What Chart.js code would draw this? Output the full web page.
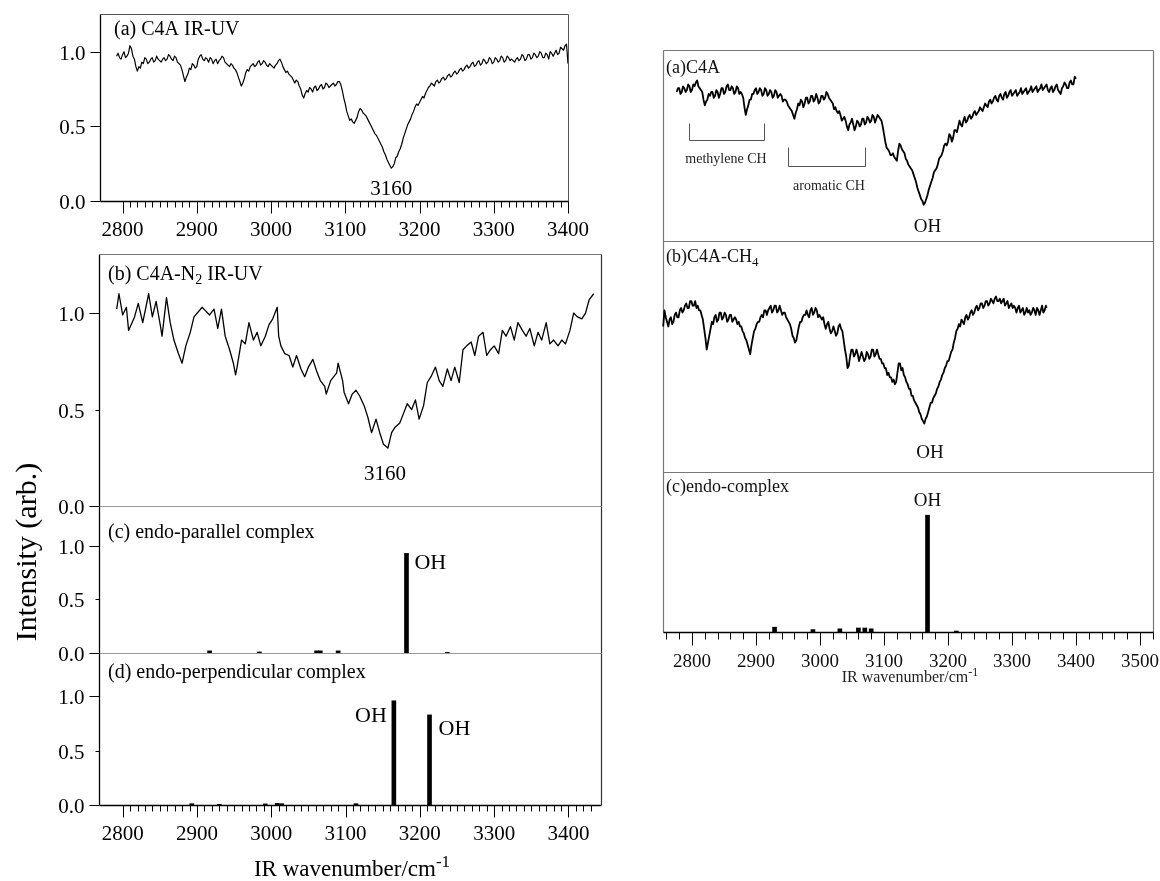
<!DOCTYPE html>
<html><head><meta charset="utf-8">
<script src="https://cdn.jsdelivr.net/npm/chart.js@4.4.1/dist/chart.umd.min.js"></script>
<style>
html,body{margin:0;padding:0;background:#fff;}
#wrap{position:relative;width:1160px;height:881px;overflow:hidden;background:#fff;}
#wrap canvas{position:absolute;left:0;top:0;}
</style></head><body><div id="wrap"></div>
<script>
// ---------------- DATA ----------------
const leftXTicks = [2800,2900,3000,3100,3200,3300,3400];
const rightXTicks = [2800,2900,3000,3100,3200,3300,3400,3500];
const leftYTicks = [0.0, 0.5, 1.0];
const leftYTickLabels = ["0.0","0.5","1.0"];

// (a) C4A IR-UV  [wavenumber, intensity]
const leftA = [[2792,0.97],[2794,0.99],[2796,0.96],[2798,0.95],[2800,0.98],[2802,1.00],[2804,0.96],[2806,0.97],[2808,0.99],[2810,1.04],[2812,1.02],[2814,0.97],[2816,0.95],[2818,0.90],[2820,0.87],[2822,0.90],[2824,0.89],[2826,0.93],[2828,0.92],[2830,0.96],[2832,0.95],[2834,0.92],[2836,0.93],[2838,0.95],[2840,0.96],[2842,0.93],[2844,0.94],[2846,0.97],[2848,0.95],[2850,0.94],[2852,0.93],[2854,0.95],[2856,0.96],[2858,0.94],[2860,0.95],[2862,0.98],[2864,0.97],[2866,0.95],[2868,0.94],[2870,0.97],[2872,0.96],[2874,0.93],[2876,0.92],[2878,0.91],[2880,0.88],[2882,0.84],[2884,0.80],[2886,0.83],[2888,0.85],[2890,0.89],[2892,0.88],[2894,0.92],[2896,0.91],[2898,0.89],[2900,0.90],[2902,0.95],[2904,0.97],[2906,0.98],[2908,0.95],[2910,0.94],[2912,0.96],[2914,0.95],[2916,0.93],[2918,0.96],[2920,0.95],[2922,0.92],[2924,0.94],[2926,0.95],[2928,0.92],[2930,0.94],[2932,0.95],[2934,0.97],[2936,0.96],[2938,0.93],[2940,0.92],[2942,0.91],[2944,0.90],[2946,0.92],[2948,0.91],[2950,0.89],[2952,0.88],[2954,0.86],[2956,0.83],[2958,0.80],[2960,0.77],[2962,0.79],[2964,0.82],[2966,0.86],[2968,0.88],[2970,0.87],[2972,0.90],[2974,0.91],[2976,0.92],[2978,0.90],[2980,0.91],[2982,0.93],[2984,0.94],[2986,0.91],[2988,0.92],[2990,0.94],[2992,0.93],[2994,0.91],[2996,0.90],[2998,0.92],[3000,0.91],[3002,0.90],[3004,0.89],[3006,0.91],[3008,0.92],[3010,0.94],[3012,0.95],[3014,0.93],[3016,0.90],[3018,0.88],[3020,0.86],[3022,0.87],[3024,0.85],[3026,0.84],[3028,0.83],[3030,0.81],[3032,0.79],[3034,0.81],[3036,0.80],[3038,0.77],[3040,0.75],[3042,0.71],[3044,0.69],[3046,0.72],[3048,0.74],[3050,0.73],[3052,0.76],[3054,0.75],[3056,0.73],[3058,0.76],[3060,0.77],[3062,0.74],[3064,0.75],[3066,0.77],[3068,0.78],[3070,0.75],[3072,0.76],[3074,0.79],[3076,0.78],[3078,0.76],[3080,0.77],[3082,0.78],[3084,0.79],[3086,0.77],[3088,0.78],[3090,0.80],[3092,0.80],[3094,0.78],[3096,0.74],[3098,0.69],[3100,0.65],[3102,0.60],[3104,0.57],[3106,0.54],[3108,0.55],[3110,0.53],[3112,0.52],[3114,0.54],[3116,0.56],[3118,0.60],[3120,0.62],[3122,0.61],[3124,0.59],[3126,0.58],[3128,0.57],[3130,0.55],[3132,0.53],[3134,0.51],[3136,0.49],[3138,0.47],[3140,0.45],[3142,0.44],[3144,0.42],[3146,0.40],[3148,0.38],[3150,0.36],[3152,0.33],[3154,0.31],[3156,0.28],[3158,0.26],[3160,0.24],[3162,0.22],[3164,0.23],[3166,0.25],[3168,0.29],[3170,0.30],[3172,0.33],[3174,0.35],[3176,0.38],[3178,0.42],[3180,0.45],[3182,0.48],[3184,0.51],[3186,0.53],[3188,0.55],[3190,0.58],[3192,0.60],[3194,0.63],[3196,0.65],[3198,0.64],[3200,0.66],[3202,0.68],[3204,0.70],[3206,0.69],[3208,0.72],[3210,0.74],[3212,0.76],[3214,0.77],[3216,0.79],[3218,0.78],[3220,0.77],[3222,0.80],[3224,0.81],[3226,0.79],[3228,0.80],[3230,0.82],[3232,0.83],[3234,0.81],[3236,0.82],[3238,0.84],[3240,0.85],[3242,0.83],[3244,0.84],[3246,0.86],[3248,0.87],[3250,0.85],[3252,0.86],[3254,0.88],[3256,0.89],[3258,0.87],[3260,0.88],[3262,0.90],[3264,0.91],[3266,0.89],[3268,0.90],[3270,0.92],[3272,0.93],[3274,0.90],[3276,0.91],[3278,0.93],[3280,0.94],[3282,0.91],[3284,0.92],[3286,0.95],[3288,0.94],[3290,0.92],[3292,0.93],[3294,0.96],[3296,0.95],[3298,0.92],[3300,0.93],[3302,0.96],[3304,0.95],[3306,0.93],[3308,0.94],[3310,0.97],[3312,0.96],[3314,0.93],[3316,0.94],[3318,0.97],[3320,0.96],[3322,0.94],[3324,0.95],[3326,0.94],[3328,0.93],[3330,0.95],[3332,0.96],[3334,0.94],[3336,0.95],[3338,0.98],[3340,0.97],[3342,0.94],[3344,0.95],[3346,0.98],[3348,0.98],[3350,0.95],[3352,0.96],[3354,0.99],[3356,0.98],[3358,0.96],[3360,0.97],[3362,1.00],[3364,0.99],[3366,0.96],[3368,0.96],[3370,0.99],[3372,0.98],[3374,0.95],[3376,1.00],[3378,0.99],[3380,0.97],[3382,0.99],[3384,1.01],[3386,0.98],[3388,0.99],[3390,1.03],[3392,1.02],[3394,1.01],[3396,1.04],[3398,1.05],[3400,0.92]];

// (b) C4A-N2 IR-UV
const leftB = [[2792,1.02],[2795,1.10],[2800,0.99],[2805,1.03],[2808,0.91],[2816,0.98],[2821,1.05],[2827,0.95],[2835,1.10],[2840,0.98],[2845,1.06],[2851,0.93],[2853,0.88],[2859,1.08],[2864,0.95],[2869,0.86],[2875,0.79],[2880,0.74],[2885,0.83],[2891,0.90],[2896,0.98],[2907,1.03],[2912,1.01],[2917,0.99],[2923,1.02],[2928,0.92],[2933,1.02],[2938,0.88],[2944,0.81],[2949,0.74],[2952,0.68],[2954,0.72],[2960,0.86],[2965,0.84],[2970,0.95],[2976,0.86],[2981,0.90],[2986,0.83],[2992,0.88],[2997,0.94],[3002,0.97],[3008,1.03],[3010,0.88],[3013,0.83],[3018,0.79],[3024,0.78],[3029,0.72],[3034,0.78],[3040,0.71],[3045,0.67],[3050,0.72],[3056,0.76],[3061,0.70],[3066,0.65],[3072,0.62],[3074,0.58],[3080,0.65],[3088,0.69],[3090,0.74],[3096,0.65],[3098,0.59],[3104,0.53],[3109,0.58],[3114,0.60],[3119,0.57],[3125,0.52],[3130,0.46],[3135,0.38],[3141,0.45],[3146,0.38],[3151,0.32],[3157,0.30],[3162,0.38],[3167,0.41],[3173,0.43],[3178,0.48],[3183,0.53],[3189,0.50],[3194,0.55],[3199,0.45],[3205,0.52],[3210,0.64],[3215,0.67],[3221,0.72],[3226,0.65],[3231,0.62],[3237,0.71],[3242,0.65],[3247,0.72],[3253,0.64],[3258,0.81],[3263,0.83],[3269,0.85],[3274,0.78],[3279,0.88],[3285,0.90],[3290,0.78],[3295,0.81],[3300,0.83],[3306,0.79],[3311,0.91],[3316,0.88],[3322,0.93],[3327,0.86],[3332,0.95],[3338,0.91],[3343,0.88],[3348,0.92],[3354,0.83],[3359,0.90],[3364,0.86],[3370,0.95],[3375,0.84],[3380,0.86],[3386,0.83],[3391,0.86],[3396,0.84],[3402,0.91],[3407,1.00],[3412,0.98],[3418,0.97],[3423,1.00],[3428,1.07],[3434,1.10]];

// (c) endo-parallel complex (calculated sticks)
const leftC = [[2917,0.02],[2984,0.01],[3061,0.02],[3066,0.02],[3090,0.02],[3182,0.93],[3237,0.006]];
// (d) endo-perpendicular complex
const leftD = [[2893,0.012],[2930,0.006],[2992,0.01],[3008,0.015],[3014,0.012],[3114,0.012],[3165,0.96],[3213,0.83]];

// right (a) C4A
const rightA = [[2776,0.78],[2778,0.80],[2780,0.80],[2782,0.77],[2784,0.78],[2786,0.81],[2788,0.80],[2790,0.78],[2792,0.79],[2794,0.82],[2796,0.81],[2798,0.78],[2800,0.79],[2802,0.82],[2804,0.81],[2806,0.83],[2808,0.84],[2810,0.81],[2812,0.80],[2814,0.79],[2816,0.78],[2818,0.74],[2820,0.71],[2822,0.73],[2824,0.74],[2826,0.77],[2828,0.76],[2830,0.78],[2832,0.78],[2834,0.75],[2836,0.76],[2838,0.79],[2840,0.78],[2842,0.75],[2844,0.77],[2846,0.80],[2848,0.80],[2850,0.77],[2852,0.78],[2854,0.81],[2856,0.82],[2858,0.79],[2860,0.79],[2862,0.81],[2864,0.80],[2866,0.77],[2868,0.78],[2870,0.81],[2872,0.80],[2874,0.77],[2876,0.78],[2878,0.77],[2880,0.75],[2882,0.70],[2884,0.66],[2886,0.69],[2888,0.71],[2890,0.74],[2892,0.74],[2894,0.77],[2896,0.77],[2898,0.79],[2900,0.80],[2902,0.77],[2904,0.78],[2906,0.80],[2908,0.79],[2910,0.76],[2912,0.77],[2914,0.80],[2916,0.79],[2918,0.76],[2920,0.77],[2922,0.79],[2924,0.78],[2926,0.75],[2928,0.76],[2930,0.79],[2932,0.78],[2934,0.75],[2936,0.76],[2938,0.77],[2940,0.76],[2942,0.73],[2944,0.74],[2946,0.74],[2948,0.73],[2950,0.71],[2952,0.70],[2954,0.69],[2956,0.68],[2958,0.66],[2960,0.64],[2962,0.67],[2964,0.69],[2966,0.72],[2968,0.71],[2970,0.74],[2972,0.73],[2974,0.70],[2976,0.72],[2978,0.75],[2980,0.75],[2982,0.72],[2984,0.73],[2986,0.76],[2988,0.76],[2990,0.73],[2992,0.74],[2994,0.77],[2996,0.75],[2998,0.72],[3000,0.73],[3002,0.76],[3004,0.76],[3006,0.74],[3008,0.75],[3010,0.78],[3012,0.77],[3014,0.75],[3016,0.74],[3018,0.73],[3020,0.72],[3022,0.69],[3024,0.70],[3026,0.68],[3028,0.67],[3030,0.68],[3032,0.66],[3034,0.63],[3036,0.64],[3038,0.65],[3040,0.63],[3042,0.60],[3044,0.58],[3046,0.61],[3048,0.62],[3050,0.64],[3052,0.61],[3054,0.58],[3056,0.60],[3058,0.63],[3060,0.62],[3062,0.60],[3064,0.61],[3066,0.64],[3068,0.64],[3070,0.61],[3072,0.62],[3074,0.65],[3076,0.64],[3078,0.62],[3080,0.63],[3082,0.66],[3084,0.65],[3086,0.62],[3088,0.64],[3090,0.66],[3092,0.65],[3094,0.64],[3096,0.63],[3098,0.60],[3100,0.56],[3102,0.52],[3104,0.49],[3106,0.48],[3108,0.47],[3110,0.45],[3112,0.45],[3114,0.46],[3116,0.44],[3118,0.43],[3120,0.42],[3122,0.47],[3124,0.51],[3126,0.50],[3128,0.48],[3130,0.47],[3132,0.46],[3134,0.43],[3136,0.42],[3138,0.40],[3140,0.39],[3142,0.38],[3144,0.37],[3146,0.35],[3148,0.33],[3150,0.31],[3152,0.28],[3154,0.26],[3156,0.24],[3158,0.22],[3160,0.21],[3162,0.19],[3164,0.20],[3166,0.22],[3168,0.24],[3170,0.27],[3172,0.29],[3174,0.31],[3176,0.33],[3178,0.36],[3180,0.37],[3182,0.38],[3184,0.40],[3186,0.43],[3188,0.44],[3190,0.45],[3192,0.47],[3194,0.50],[3196,0.51],[3198,0.50],[3200,0.52],[3202,0.56],[3204,0.55],[3206,0.52],[3208,0.54],[3210,0.58],[3212,0.58],[3214,0.57],[3216,0.60],[3218,0.63],[3220,0.61],[3222,0.60],[3224,0.63],[3226,0.65],[3228,0.62],[3230,0.63],[3232,0.65],[3234,0.66],[3236,0.64],[3238,0.65],[3240,0.67],[3242,0.68],[3244,0.66],[3246,0.67],[3248,0.68],[3250,0.70],[3252,0.69],[3254,0.68],[3256,0.70],[3258,0.72],[3260,0.71],[3262,0.70],[3264,0.73],[3266,0.74],[3268,0.72],[3270,0.73],[3272,0.75],[3274,0.76],[3276,0.74],[3278,0.73],[3280,0.76],[3282,0.77],[3284,0.75],[3286,0.74],[3288,0.77],[3290,0.78],[3292,0.75],[3294,0.76],[3296,0.78],[3298,0.79],[3300,0.76],[3302,0.77],[3304,0.78],[3306,0.79],[3308,0.76],[3310,0.77],[3312,0.78],[3314,0.80],[3316,0.77],[3318,0.78],[3320,0.79],[3322,0.80],[3324,0.77],[3326,0.78],[3328,0.79],[3330,0.81],[3332,0.78],[3334,0.79],[3336,0.80],[3338,0.81],[3340,0.78],[3342,0.79],[3344,0.80],[3346,0.82],[3348,0.79],[3350,0.80],[3352,0.81],[3354,0.82],[3356,0.79],[3358,0.78],[3360,0.80],[3362,0.81],[3364,0.78],[3366,0.79],[3368,0.81],[3370,0.82],[3372,0.79],[3374,0.78],[3376,0.77],[3378,0.80],[3380,0.81],[3382,0.83],[3384,0.82],[3386,0.80],[3388,0.80],[3390,0.83],[3392,0.84],[3394,0.82],[3396,0.82],[3398,0.86],[3400,0.85]];

// right (b) C4A-CH4
const rightB = [[2755,0.63],[2757,0.70],[2759,0.67],[2761,0.65],[2763,0.63],[2765,0.66],[2767,0.67],[2769,0.64],[2771,0.65],[2773,0.68],[2775,0.69],[2777,0.67],[2779,0.67],[2781,0.70],[2783,0.71],[2785,0.69],[2787,0.70],[2789,0.72],[2791,0.73],[2793,0.71],[2795,0.71],[2797,0.74],[2799,0.74],[2801,0.72],[2803,0.72],[2805,0.74],[2807,0.71],[2809,0.72],[2811,0.70],[2813,0.70],[2815,0.68],[2817,0.66],[2819,0.62],[2821,0.58],[2823,0.53],[2825,0.56],[2827,0.59],[2829,0.62],[2831,0.65],[2833,0.64],[2835,0.67],[2837,0.68],[2839,0.65],[2841,0.66],[2843,0.69],[2845,0.69],[2847,0.66],[2849,0.67],[2851,0.69],[2853,0.68],[2855,0.65],[2857,0.66],[2859,0.68],[2861,0.68],[2863,0.65],[2865,0.66],[2867,0.67],[2869,0.66],[2871,0.64],[2873,0.65],[2875,0.63],[2877,0.63],[2879,0.61],[2881,0.60],[2883,0.58],[2885,0.57],[2887,0.55],[2889,0.53],[2891,0.51],[2893,0.55],[2895,0.58],[2897,0.61],[2899,0.62],[2901,0.64],[2903,0.65],[2905,0.65],[2907,0.67],[2909,0.68],[2911,0.67],[2913,0.70],[2915,0.70],[2917,0.68],[2919,0.70],[2921,0.71],[2923,0.72],[2925,0.69],[2927,0.70],[2929,0.72],[2931,0.72],[2933,0.69],[2935,0.70],[2937,0.72],[2939,0.70],[2941,0.68],[2943,0.69],[2945,0.69],[2947,0.67],[2949,0.66],[2951,0.65],[2953,0.64],[2955,0.62],[2957,0.59],[2959,0.58],[2961,0.56],[2963,0.57],[2965,0.60],[2967,0.63],[2969,0.65],[2971,0.65],[2973,0.67],[2975,0.68],[2977,0.68],[2979,0.70],[2981,0.68],[2983,0.67],[2985,0.70],[2987,0.71],[2989,0.68],[2991,0.69],[2993,0.71],[2995,0.70],[2997,0.67],[2999,0.68],[3001,0.67],[3003,0.66],[3005,0.67],[3007,0.64],[3009,0.62],[3011,0.64],[3013,0.65],[3015,0.62],[3017,0.60],[3019,0.61],[3021,0.63],[3023,0.61],[3025,0.59],[3027,0.60],[3029,0.63],[3031,0.64],[3033,0.62],[3035,0.61],[3037,0.57],[3039,0.53],[3041,0.50],[3043,0.45],[3045,0.46],[3047,0.50],[3049,0.53],[3051,0.53],[3053,0.50],[3055,0.51],[3057,0.53],[3059,0.51],[3061,0.48],[3063,0.50],[3065,0.52],[3067,0.50],[3069,0.48],[3071,0.49],[3073,0.52],[3075,0.51],[3077,0.49],[3079,0.50],[3081,0.53],[3083,0.53],[3085,0.50],[3087,0.51],[3089,0.53],[3091,0.51],[3093,0.49],[3095,0.49],[3097,0.47],[3099,0.47],[3101,0.45],[3103,0.45],[3105,0.42],[3107,0.43],[3109,0.41],[3111,0.41],[3113,0.39],[3115,0.40],[3117,0.38],[3119,0.39],[3121,0.43],[3123,0.47],[3125,0.47],[3127,0.44],[3129,0.45],[3131,0.42],[3133,0.41],[3135,0.39],[3137,0.38],[3139,0.36],[3141,0.36],[3143,0.33],[3145,0.33],[3147,0.31],[3149,0.30],[3151,0.29],[3153,0.28],[3155,0.26],[3157,0.25],[3159,0.23],[3161,0.22],[3163,0.21],[3165,0.23],[3167,0.24],[3169,0.26],[3171,0.28],[3173,0.30],[3175,0.30],[3177,0.32],[3179,0.33],[3181,0.34],[3183,0.36],[3185,0.37],[3187,0.39],[3189,0.40],[3191,0.42],[3193,0.43],[3195,0.45],[3197,0.46],[3199,0.48],[3201,0.48],[3203,0.50],[3205,0.52],[3207,0.53],[3209,0.56],[3211,0.58],[3213,0.61],[3215,0.62],[3217,0.64],[3219,0.63],[3221,0.66],[3223,0.65],[3225,0.64],[3227,0.67],[3229,0.68],[3231,0.66],[3233,0.67],[3235,0.69],[3237,0.70],[3239,0.68],[3241,0.69],[3243,0.71],[3245,0.72],[3247,0.70],[3249,0.71],[3251,0.73],[3253,0.73],[3255,0.71],[3257,0.72],[3259,0.74],[3261,0.74],[3263,0.72],[3265,0.73],[3267,0.75],[3269,0.74],[3271,0.73],[3273,0.75],[3275,0.76],[3277,0.74],[3279,0.74],[3281,0.75],[3283,0.73],[3285,0.74],[3287,0.75],[3289,0.72],[3291,0.73],[3293,0.74],[3295,0.71],[3297,0.72],[3299,0.73],[3301,0.71],[3303,0.72],[3305,0.71],[3307,0.69],[3309,0.71],[3311,0.72],[3313,0.69],[3315,0.70],[3317,0.71],[3319,0.68],[3321,0.69],[3323,0.71],[3325,0.69],[3327,0.70],[3329,0.68],[3331,0.69],[3333,0.71],[3335,0.70],[3337,0.68],[3339,0.71],[3341,0.70],[3343,0.68],[3345,0.70],[3347,0.72],[3349,0.69],[3351,0.70],[3353,0.72],[3354,0.71]];

// right (c) endo-complex sticks
const rightC = [[2929,0.03],[2989,0.015],[3031,0.02],[3060,0.025],[3070,0.025],[3080,0.02],[3168,0.73],[3213,0.006]];

// ---------------- DRAWING ----------------
const FONT = '"Liberation Serif","Times New Roman",serif';
const wrap = document.getElementById('wrap');
let nid = 0;

function seg(ctx, x1, y1, x2, y2, color, w) {
  ctx.save(); ctx.strokeStyle = color; ctx.lineWidth = w || 1;
  ctx.beginPath(); ctx.moveTo(x1, y1); ctx.lineTo(x2, y2); ctx.stroke(); ctx.restore();
}
function crisp(v) { return Math.round(v) + 0.5; }
function rich(ctx, parts, x, y, size, align, color) {
  ctx.save();
  ctx.fillStyle = color || '#000';
  ctx.textBaseline = 'alphabetic'; ctx.textAlign = 'left';
  let w = 0;
  for (const [t, m] of parts) { ctx.font = (m ? Math.round(size * 0.72) : size) + 'px ' + FONT; w += ctx.measureText(t).width; }
  let cx = align === 'center' ? x - w / 2 : (align === 'right' ? x - w : x);
  for (const [t, m] of parts) {
    const s = m ? Math.round(size * 0.72) : size;
    ctx.font = s + 'px ' + FONT;
    const dy = m === 1 ? size * 0.22 : (m === 2 ? -size * 0.40 : 0);
    ctx.fillText(t, cx, y + dy);
    cx += ctx.measureText(t).width;
  }
  ctx.restore();
}
function txt(ctx, t, x, y, size, align, color) { rich(ctx, [[t, 0]], x, y, size, align, color); }

function panel(rect, xr, yr, datasets, deco) {
  const cv = document.createElement('canvas');
  cv.width = 1160; cv.height = 881;
  cv.style.width = '1160px'; cv.style.height = '881px';
  wrap.appendChild(cv);
  nid++;
  return new Chart(cv.getContext('2d'), {
    type: 'line',
    data: { datasets: datasets },
    options: {
      responsive: false, maintainAspectRatio: false, animation: false, devicePixelRatio: 1, events: [],
      layout: { padding: { left: rect[0], top: rect[1], right: 1160 - rect[2], bottom: 881 - rect[3] } },
      scales: {
        x: { type: 'linear', min: xr[0], max: xr[1], display: false, offset: false },
        y: { type: 'linear', min: yr[0], max: yr[1], display: false }
      },
      plugins: { legend: { display: false }, tooltip: { enabled: false } }
    },
    plugins: [{ id: 'deco' + nid, afterDraw(ch) { deco(ch, ch.ctx, ch.scales.x, ch.scales.y, ch.chartArea); } }]
  });
}
function spec(pairs, w) {
  return { type: 'line', data: pairs.map(p => ({ x: p[0], y: p[1] })), borderColor: '#000', borderWidth: w,
           pointRadius: 0, tension: 0, fill: false, clip: false, borderJoinStyle: 'round' };
}
function sticks(pairs, w) {
  return { type: 'bar', data: pairs.map(p => ({ x: p[0], y: p[1] })), backgroundColor: '#000', borderWidth: 0,
           barThickness: w, grouped: false };
}

function leftY(ctx, ys, L, shortMid) {
  leftYTicks.forEach((v, i) => {
    const y = crisp(ys.getPixelForValue(v));
    const len = (shortMid && v === 0.5) ? 4 : 10;
    seg(ctx, L - len, y, L, y, '#000', 1);
    txt(ctx, leftYTickLabels[i], L - 15, y + 7, 21, 'right');
  });
}
function bottomX(ctx, xs, B, from, to, labelY) {
  for (let v = from; v <= to; v += 10) {
    const x = crisp(xs.getPixelForValue(v));
    seg(ctx, x, B, x, B + (v % 100 === 0 ? 12 : 6), '#000', 1);
  }
  leftXTicks.forEach(v => txt(ctx, String(v), xs.getPixelForValue(v), labelY, 21, 'center'));
}

// ---- Left (a)
panel([101, 14, 568, 201], [2771, 3400], [0, 1.2525], [spec(leftA, 1.2)], (ch, ctx, xs, ys, a) => {
  const L = crisp(a.left) - 1, R = crisp(a.right), T = crisp(a.top), B = crisp(a.bottom);
  seg(ctx, L, T, R, T, '#555', 1);
  seg(ctx, R, T, R, B, '#555', 1);
  seg(ctx, L, T, L, B, '#000', 1.3);
  seg(ctx, L, B, R, B, '#000', 1.3);
  leftY(ctx, ys, L, false);
  bottomX(ctx, xs, B, 2800, 3400, 236);
  txt(ctx, '(a) C4A IR-UV', 114, 35, 20, 'left');
  txt(ctx, '3160', xs.getPixelForValue(3162), 195, 21, 'center');
});

// ---- Left (b)
panel([100, 254, 601, 506], [2769.5, 3443.8], [0, 1.306], [spec(leftB, 1.3)], (ch, ctx, xs, ys, a) => {
  const L = crisp(a.left) - 1, R = crisp(a.right), T = crisp(a.top), B = crisp(a.bottom);
  seg(ctx, L, T, R, T, '#777', 1);
  seg(ctx, R, T, R, 805, '#333', 1.2);
  seg(ctx, L, T, L, 805, '#000', 1.3);
  seg(ctx, L, B, R, B, '#999', 1);
  leftY(ctx, ys, L, true);
  rich(ctx, [['(b) C4A-N', 0], ['2', 1], [' IR-UV', 0]], 108, 280, 20, 'left');
  txt(ctx, '3160', xs.getPixelForValue(3153), 480, 21, 'center');
  ctx.save();
  ctx.translate(36, 552); ctx.rotate(-Math.PI / 2);
  txt(ctx, 'Intensity (arb.)', 0, 0, 30, 'center');
  ctx.restore();
  rich(ctx, [['IR wavenumber/cm', 0], ['-1', 2]], 352, 876, 23, 'center');
});

// ---- Left (c)
panel([100, 506, 601, 653], [2769.5, 3443.8], [0, 1.373], [sticks(leftC, 4)], (ch, ctx, xs, ys, a) => {
  const L = crisp(a.left) - 1, R = crisp(a.right), B = crisp(a.bottom);
  seg(ctx, L, B, R, B, '#999', 1);
  leftY(ctx, ys, L, true);
  txt(ctx, '(c) endo-parallel complex', 108, 538, 20, 'left');
  txt(ctx, 'OH', xs.getPixelForValue(3182) + 8, 569, 22, 'left');
});

// ---- Left (d)
panel([100, 653, 601, 805], [2769.5, 3443.8], [0, 1.40], [sticks(leftD, 4)], (ch, ctx, xs, ys, a) => {
  const L = crisp(a.left) - 1, R = crisp(a.right), B = crisp(a.bottom);
  seg(ctx, L, B, R, B, '#000', 1.3);
  leftY(ctx, ys, L, true);
  bottomX(ctx, xs, B, 2800, 3430, 840);
  txt(ctx, '(d) endo-perpendicular complex', 108, 678, 20, 'left');
  txt(ctx, 'OH', xs.getPixelForValue(3165) - 7, 722, 22, 'right');
  txt(ctx, 'OH', xs.getPixelForValue(3213) + 9, 735, 22, 'left');
});

// ---- Right (a)
const RX = [2754.7, 3520.3];
panel([663, 50, 1153, 241], RX, [0, 1], [spec(rightA, 1.8)], (ch, ctx, xs, ys, a) => {
  const L = crisp(a.left), R = crisp(a.right), T = crisp(a.top);
  const BOT = 632.5;
  seg(ctx, L, T, R, T, '#777', 1);
  seg(ctx, L, T, L, BOT, '#777', 1.2);
  seg(ctx, R, T, R, BOT, '#777', 1.2);
  seg(ctx, L, 241.5, R, 241.5, '#777', 1);
  seg(ctx, L, 472.5, R, 472.5, '#777', 1);
  txt(ctx, '(a)C4A', 666, 73, 18, 'left', '#111');
  const bx = (v) => crisp(xs.getPixelForValue(v));
  const by = (v) => crisp(ys.getPixelForValue(v));
  ctx.save(); ctx.strokeStyle = '#555'; ctx.lineWidth = 1;
  ctx.beginPath();
  ctx.moveTo(bx(2795), by(0.62)); ctx.lineTo(bx(2795), by(0.53)); ctx.lineTo(bx(2913), by(0.53)); ctx.lineTo(bx(2913), by(0.62));
  ctx.moveTo(bx(2950), by(0.49)); ctx.lineTo(bx(2950), by(0.395)); ctx.lineTo(bx(3070), by(0.395)); ctx.lineTo(bx(3070), by(0.49));
  ctx.stroke(); ctx.restore();
  txt(ctx, 'methylene CH', 726, 163, 14, 'center', '#222');
  txt(ctx, 'aromatic CH', 829, 190, 14, 'center', '#222');
  txt(ctx, 'OH', xs.getPixelForValue(3168), 232, 19, 'center', '#111');
});

// ---- Right (b)
panel([663, 241, 1153, 472], RX, [0, 1], [spec(rightB, 1.8)], (ch, ctx, xs, ys, a) => {
  rich(ctx, [['(b)C4A-CH', 0], ['4', 1]], 666, 262, 18, 'left', '#111');
  txt(ctx, 'OH', xs.getPixelForValue(3172), 458, 19, 'center', '#111');
});

// ---- Right (c)
panel([663, 472, 1153, 632], RX, [0, 1], [sticks(rightC, 4)], (ch, ctx, xs, ys, a) => {
  const L = crisp(a.left), R = crisp(a.right), B = crisp(a.bottom);
  seg(ctx, L, B, R, B, '#000', 1.3);
  for (let v = 2760; v <= 3520; v += 20) {
    const x = crisp(xs.getPixelForValue(v));
    seg(ctx, x, B, x, B + (v % 100 === 0 ? 13 : 7), '#000', 1);
  }
  rightXTicks.forEach(v => txt(ctx, String(v), xs.getPixelForValue(v), 667, 19, 'center', '#111'));
  txt(ctx, '(c)endo-complex', 666, 492, 18, 'left', '#111');
  txt(ctx, 'OH', xs.getPixelForValue(3168), 506, 19, 'center', '#111');
  rich(ctx, [['IR wavenumber/cm', 0], ['-1', 2]], 910, 682, 16, 'center', '#222');
});
</script>
</body></html>
